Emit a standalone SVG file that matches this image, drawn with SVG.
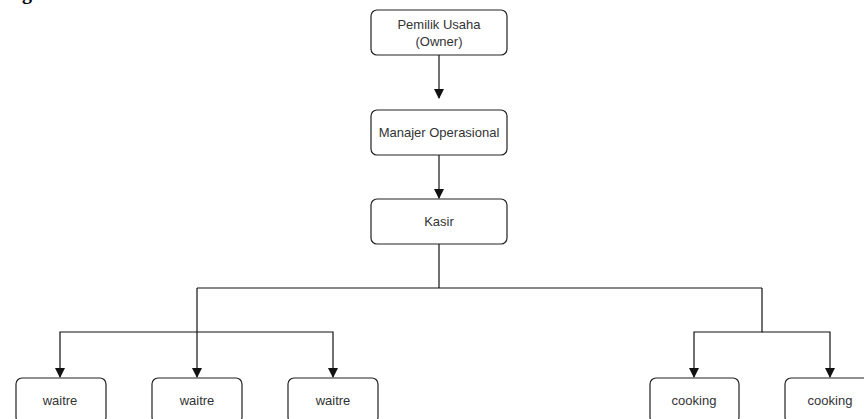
<svg xmlns="http://www.w3.org/2000/svg" width="864" height="419" viewBox="0 0 864 419">
<defs>
<style>
.box{fill:#ffffff;stroke:#222222;stroke-width:1.2}
.lbl{font-family:"Liberation Sans",Arial,sans-serif;font-size:13px;fill:#333333;text-anchor:middle}
.con{fill:none;stroke:#111111;stroke-width:1.2}
</style>
<marker id="arr" markerWidth="10" markerHeight="10" refX="9" refY="5" orient="auto" markerUnits="userSpaceOnUse">
<path d="M0,0 L10,5 L0,10 Z" fill="#111111"/>
</marker>
</defs>
<rect width="864" height="419" fill="#ffffff"/>
<text x="22" y="-1" font-family="Liberation Serif,serif" font-weight="bold" font-size="20" fill="#000">g</text>
<g id="connectors">
<path class="con" d="M439,55 V98" marker-end="url(#arr)"/>
<path class="con" d="M439,155 V198" marker-end="url(#arr)"/>
<path class="con" d="M439,244 V288 H762 M439,288 H197"/>
<path class="con" d="M197,288 V377" marker-end="url(#arr)"/>
<path class="con" d="M197,332 H60 V377" marker-end="url(#arr)"/>
<path class="con" d="M197,332 H333 V377" marker-end="url(#arr)"/>
<path class="con" d="M762,288 V332 H694 V377" marker-end="url(#arr)"/>
<path class="con" d="M762,332 H830 V377" marker-end="url(#arr)"/>
</g>
<g id="owner">
<rect class="box" x="371" y="10" width="136" height="45" rx="6"/>
<text class="lbl" x="439" y="29">Pemilik Usaha</text>
<text class="lbl" x="439" y="46">(Owner)</text>
</g>
<g id="manajer">
<rect class="box" x="371" y="110" width="136" height="45" rx="6"/>
<text class="lbl" x="439" y="137">Manajer Operasional</text>
</g>
<g id="kasir">
<rect class="box" x="371" y="199" width="136" height="45" rx="6"/>
<text class="lbl" x="439" y="226">Kasir</text>
</g>
<g id="waitre1">
<rect class="box" x="16" y="378" width="90" height="45" rx="6"/>
<text class="lbl" x="60" y="405">waitre</text>
</g>
<g id="waitre2">
<rect class="box" x="152" y="378" width="90" height="45" rx="6"/>
<text class="lbl" x="197" y="405">waitre</text>
</g>
<g id="waitre3">
<rect class="box" x="288" y="378" width="90" height="45" rx="6"/>
<text class="lbl" x="333" y="405">waitre</text>
</g>
<g id="cooking1">
<rect class="box" x="650" y="378" width="89" height="45" rx="6"/>
<text class="lbl" x="694" y="405">cooking</text>
</g>
<g id="cooking2">
<rect class="box" x="785" y="378" width="90" height="45" rx="6"/>
<text class="lbl" x="830" y="405">cooking</text>
</g>
</svg>
